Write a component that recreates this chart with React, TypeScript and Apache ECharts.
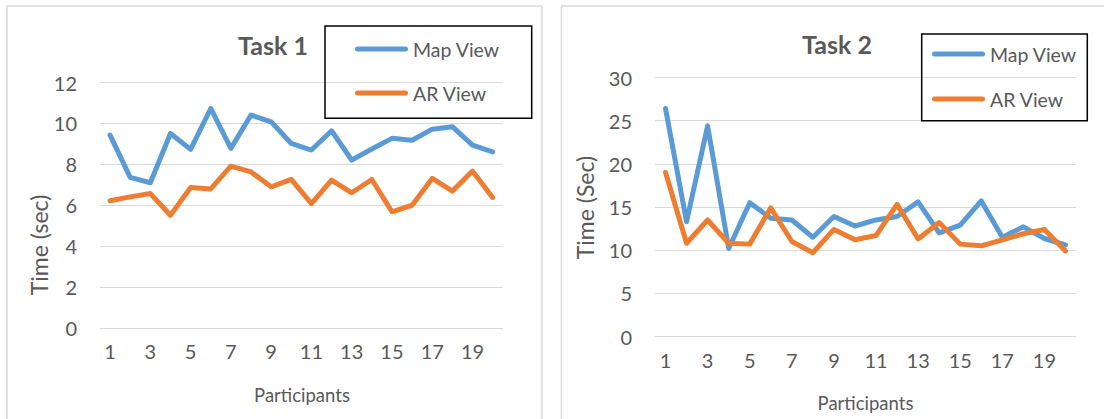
import React, { useEffect, useRef } from 'react';
import * as echarts from 'echarts';

const participants = ['1', '2', '3', '4', '5', '6', '7', '8', '9', '10', '11', '12', '13', '14', '15', '16', '17', '18', '19', '20'];
const seriesNames = ['Map View', 'AR View'];
const task1MapView = [9.43, 7.36, 7.1, 9.51, 8.73, 10.73, 8.78, 10.41, 10.08, 9.02, 8.7, 9.64, 8.21, 8.75, 9.27, 9.18, 9.72, 9.84, 8.94, 8.61];
const task1ARView = [6.22, 6.41, 6.57, 5.51, 6.87, 6.8, 7.91, 7.63, 6.9, 7.26, 6.08, 7.23, 6.61, 7.26, 5.68, 6.0, 7.31, 6.69, 7.67, 6.38];
const task2MapView = [26.4, 13.3, 24.4, 10.2, 15.5, 13.7, 13.5, 11.5, 13.9, 12.8, 13.5, 13.9, 15.6, 12.0, 12.9, 15.7, 11.5, 12.7, 11.35, 10.6];
const task2ARView = [19.0, 10.8, 13.5, 10.8, 10.7, 14.9, 11.0, 9.7, 12.4, 11.2, 11.7, 15.3, 11.3, 13.2, 10.7, 10.5, 11.2, 11.9, 12.4, 9.9];
const titles = ['Task 1', 'Task 2'];
const yNames = ['Time (sec)', 'Time (Sec)'];
const xName = 'Participants';

const BLUE = '#5B9BD5';
const ORANGE = '#ED7D31';
const TEXT = '#595959';
const GRID = '#D9D9D9';
const FONT = 'Lato';
const ICON = 'path://M2.5,0 L50.5,0 A2.5,2.5,0,0,1,50.5,5 L2.5,5 A2.5,2.5,0,0,1,2.5,0 Z';

export default function App() {
  const ref = useRef<HTMLDivElement>(null);
  useEffect(() => {
    if (!ref.current) return;
    const chart = echarts.init(ref.current, undefined, { renderer: 'svg' });

    const xAxisBase = {
      type: 'category',
      data: participants,
      boundaryGap: true,
      axisLine: { show: true, lineStyle: { color: GRID, width: 1 } },
      axisTick: { show: false },
      axisLabel: { interval: 1, color: TEXT, fontFamily: FONT, fontSize: 20, margin: 13 },
    };
    const yAxisBase = {
      type: 'value',
      axisLine: { show: false },
      axisTick: { show: false },
      axisLabel: { color: TEXT, fontFamily: FONT, fontSize: 20, margin: 23 },
      splitLine: { show: true, lineStyle: { color: GRID, width: 1 } },
    };
    const lineBase = {
      type: 'line',
      showSymbol: false,
      symbol: 'none',
      lineStyle: { width: 5, cap: 'round', join: 'round' },
    };
    const legendBase = {
      orient: 'vertical',
      icon: ICON,
      itemWidth: 53,
      itemHeight: 5,
      padding: 0,
      data: seriesNames,
      textStyle: { color: TEXT, fontFamily: FONT, fontSize: 19.5 },
    };

    chart.setOption({
      animation: false,
      grid: [
        { left: 100, top: 82.5, width: 402.7, height: 245.5 },
        { left: 655, top: 77.5, width: 421, height: 259 },
      ],
      xAxis: [
        { ...xAxisBase, gridIndex: 0 },
        { ...xAxisBase, gridIndex: 1 },
      ],
      yAxis: [
        { ...yAxisBase, gridIndex: 0, min: 0, max: 12, interval: 2 },
        { ...yAxisBase, gridIndex: 1, min: 0, max: 30, interval: 5 },
      ],
      legend: [
        { ...legendBase, left: 355, top: 39, itemGap: 24 },
        { ...legendBase, left: 932, top: 44, itemGap: 25 },
      ],
      series: [
        { ...lineBase, name: seriesNames[0], xAxisIndex: 0, yAxisIndex: 0, data: task1MapView, color: BLUE },
        { ...lineBase, name: seriesNames[1], xAxisIndex: 0, yAxisIndex: 0, data: task1ARView, color: ORANGE },
        { ...lineBase, name: seriesNames[0], xAxisIndex: 1, yAxisIndex: 1, data: task2MapView, color: BLUE },
        { ...lineBase, name: seriesNames[1], xAxisIndex: 1, yAxisIndex: 1, data: task2ARView, color: ORANGE },
      ],
      graphic: [
        { type: 'rect', z: -1, shape: { x: 7, y: 6, width: 535, height: 430 }, style: { fill: '#fff', stroke: GRID, lineWidth: 1.5 } },
        { type: 'rect', z: -1, shape: { x: 561.5, y: 6, width: 560, height: 430 }, style: { fill: '#fff', stroke: GRID, lineWidth: 1.5 } },
        { type: 'rect', z: 5, shape: { x: 325, y: 26, width: 206.7, height: 92.3 }, style: { fill: 'none', stroke: '#000', lineWidth: 1.5 } },
        { type: 'rect', z: 5, shape: { x: 921.7, y: 34, width: 165.6, height: 86.7 }, style: { fill: 'none', stroke: '#000', lineWidth: 1.5 } },
        { type: 'text', x: 273, y: 45, style: { text: titles[0], textAlign: 'center', textVerticalAlign: 'middle', fill: TEXT, font: `bold 25px ${FONT}` } },
        { type: 'text', x: 837, y: 44, style: { text: titles[1], textAlign: 'center', textVerticalAlign: 'middle', fill: TEXT, font: `bold 25px ${FONT}` } },
        { type: 'text', x: 39, y: 245, rotation: Math.PI / 2, style: { text: yNames[0], textAlign: 'center', textVerticalAlign: 'middle', fill: TEXT, font: `23px ${FONT}` } },
        { type: 'text', x: 585, y: 207.5, rotation: Math.PI / 2, style: { text: yNames[1], textAlign: 'center', textVerticalAlign: 'middle', fill: TEXT, font: `23px ${FONT}` } },
        { type: 'text', x: 302, y: 395, style: { text: xName, textAlign: 'center', textVerticalAlign: 'middle', fill: TEXT, font: `18.5px ${FONT}` } },
        { type: 'text', x: 865.5, y: 403, style: { text: xName, textAlign: 'center', textVerticalAlign: 'middle', fill: TEXT, font: `18.5px ${FONT}` } },
      ],
    });
    return () => chart.dispose();
  }, []);
  return <div ref={ref} style={{ position: 'fixed', left: 0, top: 0, width: 1104, height: 419, background: '#fff' }} />;
}
